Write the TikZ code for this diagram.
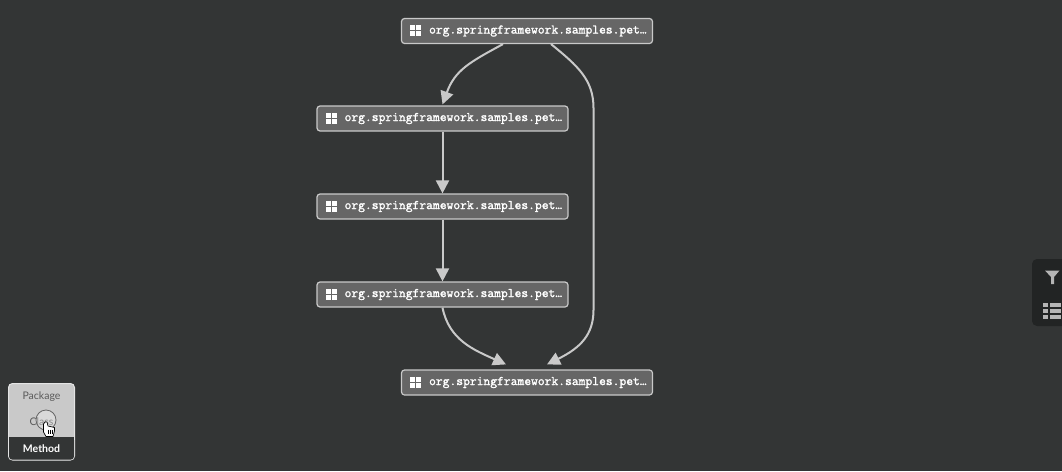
\documentclass[tikz,border=0pt]{standalone}
\usepackage{fontspec}
\setsansfont{Lato}
\newfontfamily\pkgfont{Latin Modern Mono}[FakeBold=1.6]
\usepackage{tikz}
\usetikzlibrary{arrows.meta, backgrounds}

\definecolor{canvas}{HTML}{333535}
\definecolor{boxfill}{HTML}{666666}
\definecolor{boxline}{HTML}{C9C9C9}
\definecolor{panel}{HTML}{222424}
\definecolor{legendfill}{HTML}{C9C9C9}

\tikzset{
  pkgbox/.style={draw=boxline, fill=boxfill, line width=1.2pt, rounded corners=3pt,
    minimum width=251pt, minimum height=25pt, inner sep=0pt},
  pkgtext/.style={anchor=west, inner sep=0pt, text=white,
    font=\pkgfont\fontsize{13.2}{14}\selectfont},
  depline/.style={draw=boxline, line width=2pt, -{Triangle[length=13pt, width=13pt, fill=boxline]}},
  legendtext/.style={inner sep=0pt, font=\sffamily\fontsize{10.5}{12}\selectfont}
}

% package box with its icon and name
\newcommand{\pkgnode}[3]{
  \node[pkgbox] (#1) at (#2, #3) {};
  \node[pkgtext] (#1text) at ([xshift=28pt]#1.west) {org.springframework.samples.pet…};
  \foreach \ix in {0, 6} {
    \foreach \iy in {-5, 1} {
      \fill[white] ([shift={(9.5pt+\ix pt, \iy pt)}]#1.west) rectangle ++(4.7pt, 4.7pt);
    }
  }
}

\begin{document}
\begin{tikzpicture}[x=1pt, y=-1pt]
    \useasboundingbox (0, 0) rectangle (1062, 471);

    % draw package boxes
    \pkgnode{pkgtop}{527}{31}
    \pkgnode{pkgone}{442.5}{118.5}
    \pkgnode{pkgtwo}{442.5}{206.5}
    \pkgnode{pkgthree}{442.5}{294.5}
    \pkgnode{pkgbottom}{527}{382.5}

    % draw canvas and dependencies behind the boxes
    \begin{scope}[on background layer]
      \fill[canvas] (0, 0) rectangle (1062, 471);
      \draw[depline] ([xshift=-24pt]pkgtop.south) .. controls (470, 62) and (455, 70) .. ([yshift=1pt]pkgone.north);
      \draw[depline] (pkgone.south) -- (pkgtwo.north);
      \draw[depline] (pkgtwo.south) -- (pkgthree.north);
      \draw[depline] (pkgthree.south) .. controls (449, 340) and (474, 350) .. ([xshift=-21pt, yshift=5pt]pkgbottom.north);
      \draw[depline] ([xshift=24pt]pkgtop.south) .. controls (578, 66) and (593.5, 80) .. (593.5, 108)
        -- (593.5, 310) .. controls (593.5, 335) and (580, 348) .. ([xshift=20pt, yshift=5pt]pkgbottom.north);
    \end{scope}

    % draw side panel
    \fill[panel, rounded corners=5pt] (1032, 259) rectangle (1075, 326);
    \fill[boxline!90!black] (1045, 270.5) -- (1059.5, 270.5) -- (1054, 277) -- (1054, 284) -- (1051, 284) -- (1051, 277) -- cycle;
    \foreach \ry in {303, 309, 315} {
      \fill[boxline!90!black] (1043, \ry) rectangle ++(4.5, 4);
      \fill[boxline!90!black] (1049.5, \ry) rectangle ++(11.5, 4);
    }

    % draw legend
    \filldraw[draw=boxline!50!white, fill=legendfill, line width=1pt, rounded corners=4pt] (8.5, 383.5) rectangle (74.5, 460);
    \fill[canvas, rounded corners=3pt] (9, 437) rectangle (74, 459.5);
    \fill[canvas] (9, 437) rectangle (74, 450);
    \node[legendtext, text=black!65] (package) at (41.5, 396.5) {Package};
    \node[legendtext, text=black!65] (class) at (41.5, 422) {Class};
    \node[legendtext, text=white, font=\sffamily\bfseries\fontsize{10.5}{12}\selectfont] (method) at (41.5, 448.5) {Method};

    % draw pointer circle and hand
    \filldraw[draw=black!60, fill=white, fill opacity=0.3, line width=0.8pt] (46, 420) circle (10);
    \filldraw[draw=black, fill=white, line width=0.7pt, line join=round]
      (43.5, 424) -- (43.5, 432) -- (46, 436.5) -- (53, 436.5) -- (54.5, 431) -- (54.5, 427.5)
      -- (48, 426) -- (47, 422) -- (45, 422) -- cycle;
    \foreach \hx in {48.5, 50.5, 52.5} {
      \draw[black, line width=0.5pt] (\hx, 429.5) -- (\hx, 434);
    }
\end{tikzpicture}
\end{document}
